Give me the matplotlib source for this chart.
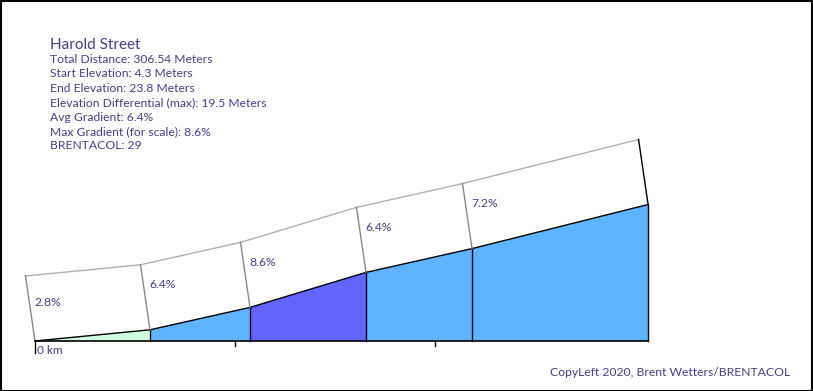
import numpy as np
import matplotlib
matplotlib.use("Agg")
import matplotlib.pyplot as plt
from matplotlib.transforms import offset_copy
from matplotlib.patches import Polygon, Rectangle

# climb profile, Harold Street
dist = [0, 57.5, 107.5, 165.5, 218.5, 306.54]      # metres along the road
elev = [4.3, 5.9, 9.1, 14.1, 17.5, 23.8]           # metres
grades = ["2.8%", "6.4%", "8.6%", "6.4%", "7.2%"]
seg_colors = ["#d2ffe2", "#60b4ff", "#6464ff", "#60b4ff", "#60b4ff"]
tick_m = [0, 100, 200]

info_title = "Harold Street"
info_lines = [
    "Total Distance: 306.54 Meters",
    "Start Elevation: 4.3 Meters",
    "End Elevation: 23.8 Meters",
    "Elevation Differential (max): 19.5 Meters",
    "Avg Gradient: 6.4%",
    "Max Gradient (for scale): 8.6%",
    "BRENTACOL: 29",
]
credit = "CopyLeft 2020, Brent Wetters/BRENTACOL"

txt_col = "#483d8b"
plt.rcParams['font.family'] = ['Lato', 'DejaVu Sans']

W, H = 813, 391
fig = plt.figure(figsize=(W / 100, H / 100), dpi=100)
ax = fig.add_axes([0, 0, 1, 1])
ax.set_axis_off()

# 2 px per metre horizontally, 7 px per metre vertically
x0_px, base_px = 35, H - 341
base = elev[0]
ax.set_xlim(-x0_px / 2.0, (W - x0_px) / 2.0)
ax.set_ylim(base - base_px / 7.0, base + (H - base_px) / 7.0)

# the "lid" drawn above the profile, shifted up and to the left
lid = offset_copy(ax.transData, fig=fig, x=-9.5, y=65, units='dots')

for i in range(len(grades)):
    xa, xb = dist[i], dist[i + 1]
    ya, yb = elev[i], elev[i + 1]
    ax.add_patch(Polygon([(xa, base), (xa, ya), (xb, yb), (xb, base)],
                         closed=True, facecolor=seg_colors[i], edgecolor='none'))
    ax.plot([xa, xa], [base, ya], color='black', lw=1)
    ax.plot([xa, xb], [ya, yb], color='black', lw=1)
    # lid box
    ax.plot([xa, xb], [ya, yb], color='#b0b0b0', lw=1, transform=lid)
    dy = 39 if i == 0 else 45
    ax.annotate(grades[i], xy=(xa, ya), xytext=(-1, dy), textcoords='offset pixels',
                color=txt_col, fontsize=8.7, ha='left', va='center')

# slanted edges joining profile to lid
tr_data = ax.transData
for i, (x, y) in enumerate(zip(dist, elev)):
    px, py = tr_data.transform((x, y))
    col = 'black' if i == len(dist) - 1 else '#888888'
    ax.plot([px, px - 9.5], [py, py + 65], color=col, lw=1, transform=None)

ax.plot([dist[-1], dist[-1]], [base, elev[-1]], color='black', lw=1)
ax.plot([dist[0], dist[-1]], [base, base], color='black', lw=1.2)

# distance ticks
for t in tick_m:
    tl = 12 if t == 0 else 5
    px, py = tr_data.transform((t, base))
    ax.plot([px, px], [py, py - tl], color='black', lw=1, transform=None)
ax.annotate("0 km", xy=(0, base), xytext=(2, -10), textcoords='offset pixels',
            color=txt_col, fontsize=8.5, ha='left', va='center')

# info block
fig.text(50 / W, 1 - 45 / H, info_title, color=txt_col, fontsize=11, va='center')
for k, line in enumerate(info_lines):
    fig.text(50 / W, 1 - (59.5 + 14.4 * k) / H, line, color=txt_col,
             fontsize=8.7, va='center')

fig.text(790 / W, 1 - 372 / H, credit, color=txt_col, fontsize=8.7,
         ha='right', va='center')

fig.patches.append(Rectangle((0.5 / W, 0.5 / H), 1 - 1.5 / W, 1 - 1.5 / H,
                             transform=fig.transFigure, fill=False,
                             edgecolor='black', lw=1.5))

fig.savefig("out.png", dpi=100)
